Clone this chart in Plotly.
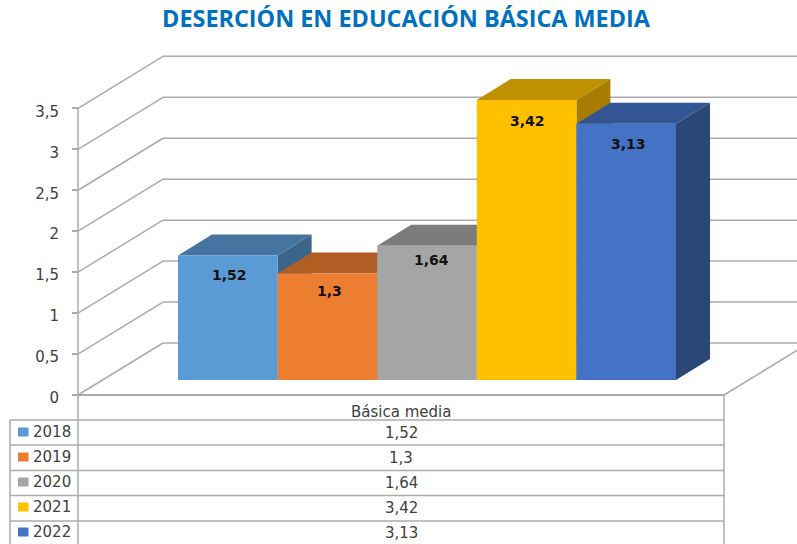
import plotly.graph_objects as go

# ---- data ----
title_text = "DESERCIÓN EN EDUCACIÓN BÁSICA MEDIA"
category = "Básica media"
years = ["2018", "2019", "2020", "2021", "2022"]
values = [1.52, 1.3, 1.64, 3.42, 3.13]
value_labels = ["1,52", "1,3", "1,64", "3,42", "3,13"]
tick_values = [0, 0.5, 1, 1.5, 2, 2.5, 3, 3.5]
tick_labels = ["0", "0,5", "1", "1,5", "2", "2,5", "3", "3,5"]
front_colors = ["#5B9BD5", "#ED7D31", "#A5A5A5", "#FFC000", "#4472C4"]
top_colors = ["#44749F", "#B15E25", "#7C7C7C", "#BF9000", "#335593"]
side_colors = ["#3B6589", "#9A5120", "#6B6B6B", "#A67D00", "#2A4777"]
label_drop_px = [19, 17, 14, 21, 20]
label_shift_px = [0, 0, 3, -1, 0]

# ---- layout constants ----
W, H = 797, 544
PX_X = 99.6          # pixels per bar
PX_Y = 81.9          # pixels per value unit
X_PIX0 = 178         # pixel of first bar's left edge
Y_PIX0 = 395         # pixel of axis zero
BAR_BASE = 15 / PX_Y
BAR_DX, BAR_DY = 34 / PX_X, 21 / PX_Y
WALL_DX, WALL_DY = 85 / PX_X, 52 / PX_Y
AX_LEFT = (78 - X_PIX0) / PX_X
AX_RIGHT = (724 - X_PIX0) / PX_X
X_RANGE = [-X_PIX0 / PX_X, (W - X_PIX0) / PX_X]
Y_RANGE = [(Y_PIX0 - H) / PX_Y, Y_PIX0 / PX_Y]
GRID = "#ABABAB"
TEXT = "#404040"
FONT = "DejaVu Sans"
LINE_W = 1.5

shapes, annotations = [], []


def poly(points, fill):
    path = "M " + " L ".join(f"{x:.4f},{y:.4f}" for x, y in points) + " Z"
    shapes.append(dict(type="path", path=path, xref="x", yref="y", layer="below",
                       fillcolor=fill, line=dict(width=0)))


def line(x0, y0, x1, y1, width=LINE_W, color=GRID):
    shapes.append(dict(type="line", x0=x0, y0=y0, x1=x1, y1=y1, xref="x",
                       yref="y", layer="below",
                       line=dict(color=color, width=width)))


# back wall gridlines and their diagonal side-wall continuation
for v in tick_values:
    line(AX_LEFT, v, AX_LEFT + WALL_DX, v + WALL_DY)
    line(AX_LEFT + WALL_DX, v + WALL_DY, X_RANGE[1], v + WALL_DY)
# floor front edge and right-hand floor edge
line(AX_LEFT, 0, AX_RIGHT, 0, width=1.8)
line(AX_RIGHT, 0, AX_RIGHT + WALL_DX, WALL_DY)

# 3D side and top faces, computed from the values (below the front bars)
for i, v in enumerate(values):
    top = BAR_BASE + v
    poly([(i + 1, BAR_BASE), (i + 1 + BAR_DX, BAR_BASE + BAR_DY),
          (i + 1 + BAR_DX, top + BAR_DY), (i + 1, top)], side_colors[i])
    poly([(i, top), (i + BAR_DX, top + BAR_DY),
          (i + 1 + BAR_DX, top + BAR_DY), (i + 1, top)], top_colors[i])

fig = go.Figure()
for i, (yr, v) in enumerate(zip(years, values)):
    fig.add_trace(go.Bar(x=[i + 0.5], y=[v], base=BAR_BASE, width=1, name=yr,
                         marker=dict(color=front_colors[i], line=dict(width=0)),
                         showlegend=False, hoverinfo="skip"))
    annotations.append(dict(x=i + 0.52, y=BAR_BASE + v, xref="x", yref="y", yanchor="middle",
                            text=f"<b>{value_labels[i]}</b>", showarrow=False,
                            yshift=-label_drop_px[i], xshift=label_shift_px[i],
                            font=dict(family=FONT, size=14, color="#111111")))

# ---- data table (paper coordinates) ----
def px(x):
    return x / W


def py(y):
    return 1 - y / H


row_lines = [420, 445, 470.5, 495.5, 521]
row_centers = [432, 457, 482, 507, 532]
TABLE_LEFT, TABLE_AXIS, TABLE_RIGHT = 10, 78, 724

for y in row_lines:
    shapes.append(dict(type="line", xref="paper", yref="paper", x0=px(TABLE_LEFT), x1=px(TABLE_RIGHT),
                       y0=py(y), y1=py(y), line=dict(color=GRID, width=LINE_W)))
for x, y_top in [(TABLE_LEFT, 420), (TABLE_AXIS, 108.5), (TABLE_RIGHT, 395)]:
    shapes.append(dict(type="line", xref="paper", yref="paper", x0=px(x), x1=px(x),
                       y0=py(y_top), y1=0, line=dict(color=GRID, width=LINE_W)))

annotations.append(dict(x=px(401), y=py(412), xref="paper", yref="paper", text=category,
                        yanchor="middle", showarrow=False,
                        font=dict(family=FONT, size=15, color=TEXT)))
for yr, lab, c, yc in zip(years, value_labels, front_colors, row_centers):
    shapes.append(dict(type="rect", xref="paper", yref="paper", x0=px(18), x1=px(28.5),
                       y0=py(yc - 4.5), y1=py(yc + 4.5), fillcolor=c, line=dict(width=0)))
    annotations.append(dict(x=px(31), y=py(yc), xref="paper", yref="paper", text=yr, xanchor="left",
                            yanchor="middle", showarrow=False,
                            font=dict(family=FONT, size=15, color=TEXT)))
    annotations.append(dict(x=px(401), y=py(yc + 1), xref="paper", yref="paper", text=lab,
                            yanchor="middle", showarrow=False,
                            font=dict(family=FONT, size=15, color=TEXT)))

fig.update_layout(
    width=W, height=H, autosize=False,
    margin=dict(l=0, r=0, t=0, b=0),
    paper_bgcolor="white", plot_bgcolor="rgba(0,0,0,0)",
    barmode="overlay", shapes=shapes, annotations=annotations,
    title=dict(text=f"<b>{title_text}</b>", x=406 / W, xanchor="center", y=1 - 19 / H, yanchor="middle",
               font=dict(family="Open Sans", size=23.4, color="#0070C0")),
    xaxis=dict(range=X_RANGE, visible=False, fixedrange=True),
    yaxis=dict(range=Y_RANGE, anchor="free", position=78 / W, side="left",
               tickmode="array", tickvals=tick_values, ticktext=tick_labels,
               ticks="outside", ticklen=6, tickcolor=GRID, tickwidth=LINE_W,
               ticklabelstandoff=10, ticklabelshift=3,
               tickfont=dict(family=FONT, size=15, color=TEXT),
               showgrid=False, zeroline=False, showline=False, fixedrange=True),
)

fig.write_html("out.html", config=dict(displayModeBar=False),
               post_script="document.body.style.margin='0';")
